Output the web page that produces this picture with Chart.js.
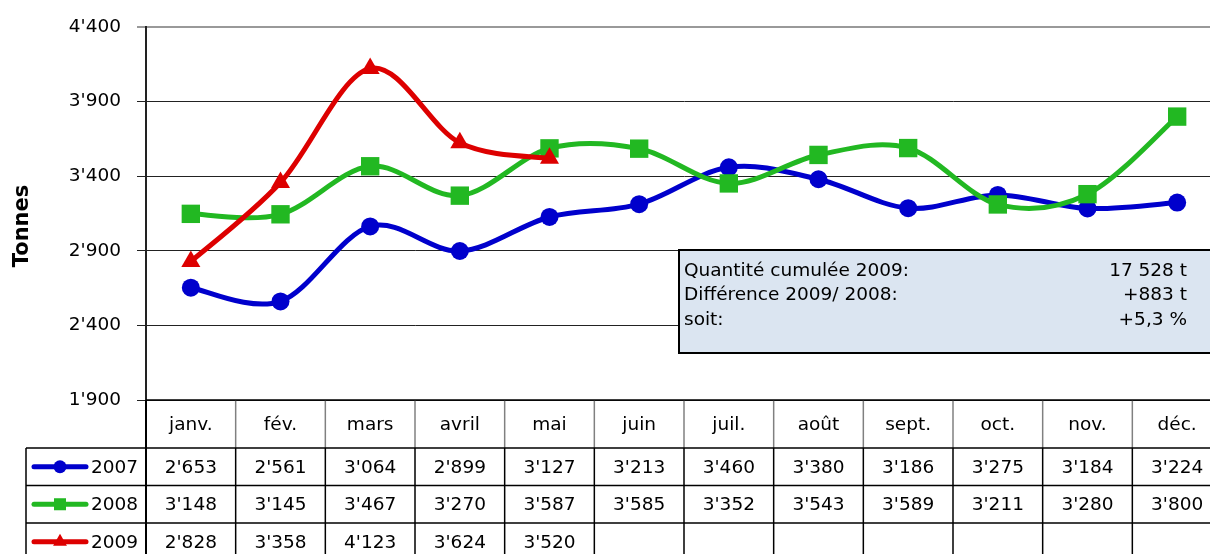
<!DOCTYPE html>
<html>
<head>
<meta charset="utf-8">
<script src="https://cdn.jsdelivr.net/npm/chart.js@4.4.0/dist/chart.umd.min.js"></script>
<style>
html, body { margin: 0; padding: 0; overflow: hidden; background: #fff; }
#wrap { position: relative; width: 1210px; height: 554px; overflow: hidden; }
</style>
</head>
<body>
<div id="wrap"><canvas id="tonnesChart" width="1222" height="554"></canvas></div>
<script>
const months = ['janv.', 'fév.', 'mars', 'avril', 'mai', 'juin', 'juil.', 'août', 'sept.', 'oct.', 'nov.', 'déc.'];
const years = ['2007', '2008', '2009'];
const values2007 = [2653, 2561, 3064, 2899, 3127, 3213, 3460, 3380, 3186, 3275, 3184, 3224];
const values2008 = [3148, 3145, 3467, 3270, 3587, 3585, 3352, 3543, 3589, 3211, 3280, 3800];
const values2009 = [2828, 3358, 4123, 3624, 3520];
const yTicks = [1900, 2400, 2900, 3400, 3900, 4400];
const summaryLabels = ['Quantité cumulée 2009:', 'Différence 2009/ 2008:', 'soit:'];
const summaryValues = ['17 528 t', '+883 t', '+5,3 %'];

const FONT = 'DejaVu Sans';
const colors = ['#0000cc', '#22b822', '#dd0000'];
const styles = ['circle', 'rect', 'triangle'];
const SMOOTH = 1 / 6; // Excel-like (Catmull-Rom) smoothing

function fmt(v) {
    return String(v).replace(/\B(?=(\d{3})+(?!\d))/g, "'");
}

// replace chart.js control points with uniform Catmull-Rom ones
const smoothPlugin = {
    id: 'excelSmooth',
    beforeDatasetsDraw(chart) {
        chart.data.datasets.forEach((ds, di) => {
            const meta = chart.getDatasetMeta(di);
            meta.dataset.updateControlPoints(chart.chartArea, 'x');
            const pts = meta.data;
            pts.forEach((p, i) => {
                const prev = pts[i - 1] || p;
                const next = pts[i + 1] || p;
                const dx = (next.x - prev.x) * SMOOTH;
                const dy = (next.y - prev.y) * SMOOTH;
                p.cp1x = p.x - dx; p.cp1y = p.y - dy;
                p.cp2x = p.x + dx; p.cp2y = p.y + dy;
            });
            meta.dataset._path = undefined;
        });
    }
};

// data table under the plot + summary box + axis title
const tablePlugin = {
    id: 'dataTable',
    afterDraw(chart) {
        const { ctx, chartArea } = chart;
        const xs = chart.scales.x;
        const colW = (chartArea.right - chartArea.left) / months.length;
        const top = chartArea.bottom;
        const rows = [top, top + 48, top + 85.5, top + 123, top + 160.5];
        const legendLeft = 26;
        const allValues = [values2007, values2008, values2009];

        ctx.save();

        // header separators (grey)
        ctx.strokeStyle = '#808080';
        ctx.lineWidth = 1.5;
        for (let i = 1; i < months.length; i++) {
            const bx = chartArea.left + i * colW;
            ctx.beginPath();
            ctx.moveTo(bx, rows[0]);
            ctx.lineTo(bx, rows[1]);
            ctx.stroke();
        }

        // body grid (black)
        ctx.strokeStyle = '#000';
        ctx.lineWidth = 1.5;
        ctx.beginPath();
        ctx.moveTo(chartArea.left, top);
        ctx.lineTo(chartArea.right, top);
        for (let r = 1; r < rows.length; r++) {
            ctx.moveTo(legendLeft, rows[r]);
            ctx.lineTo(chartArea.right, rows[r]);
        }
        ctx.moveTo(legendLeft, rows[1]);
        ctx.lineTo(legendLeft, rows[4]);
        for (let i = 1; i < months.length; i++) {
            const bx = chartArea.left + i * colW;
            ctx.moveTo(bx, rows[1]);
            ctx.lineTo(bx, rows[4]);
        }
        ctx.stroke();
        ctx.lineWidth = 2;
        ctx.beginPath();
        ctx.moveTo(chartArea.left, top);
        ctx.lineTo(chartArea.left, rows[4]);
        ctx.stroke();

        // texts
        ctx.fillStyle = '#000';
        ctx.font = '18.5px "' + FONT + '"';
        ctx.textAlign = 'center';
        ctx.textBaseline = 'middle';
        months.forEach((m, i) => {
            ctx.fillText(m, xs.getPixelForValue(i), (rows[0] + rows[1]) / 2 + 1);
        });
        allValues.forEach((vals, r) => {
            const cy = (rows[r + 1] + rows[r + 2]) / 2 + 1;
            vals.forEach((v, i) => {
                ctx.fillText(fmt(v), xs.getPixelForValue(i), cy);
            });
        });

        // legend keys
        years.forEach((y, r) => {
            const cy = (rows[r + 1] + rows[r + 2]) / 2;
            ctx.strokeStyle = colors[r];
            ctx.fillStyle = colors[r];
            ctx.lineWidth = 5;
            ctx.lineCap = 'round';
            ctx.beginPath();
            ctx.moveTo(34, cy);
            ctx.lineTo(86, cy);
            ctx.stroke();
            const rad = [6.5, 8.5, 8][r];
            Chart.helpers.drawPoint(ctx, { pointStyle: styles[r], radius: rad, rotation: 0, borderWidth: 0 }, 60, cy);
            ctx.fillStyle = '#000';
            ctx.textAlign = 'right';
            ctx.fillText(y, 138, cy + 1);
        });

        // y title
        ctx.save();
        ctx.translate(23, 226);
        ctx.rotate(-Math.PI / 2);
        ctx.font = 'bold 21px "' + FONT + '"';
        ctx.textAlign = 'center';
        ctx.textBaseline = 'middle';
        ctx.fillText('Tonnes', 0, 0);
        ctx.restore();

        // summary box
        const bx = 679, by = 250, bw = 560, bh = 103;
        ctx.fillStyle = '#dbe5f1';
        ctx.fillRect(bx, by, bw, bh);
        ctx.strokeStyle = '#000';
        ctx.lineWidth = 2;
        ctx.strokeRect(bx, by, bw, bh);
        ctx.fillStyle = '#000';
        ctx.font = '18.5px "' + FONT + '"';
        ctx.textBaseline = 'middle';
        summaryLabels.forEach((t, i) => {
            ctx.textAlign = 'left';
            ctx.fillText(t, 684, 271 + i * 24.5);
            ctx.textAlign = 'right';
            ctx.fillText(summaryValues[i], 1187, 271 + i * 24.5);
        });

        ctx.restore();
    }
};

const ctx = document.getElementById('tonnesChart').getContext('2d');

new Chart(ctx, {
    type: 'line',
    data: {
        labels: months,
        datasets: [values2007, values2008, values2009].map((vals, i) => ({
            label: years[i],
            data: vals,
            borderColor: colors[i],
            backgroundColor: colors[i],
            borderWidth: 5,
            pointStyle: styles[i],
            pointRadius: [9, 13, 11][i],
            pointBorderWidth: 0,
            tension: 0.4,
            fill: false,
            order: 2 - i
        }))
    },
    options: {
        responsive: false,
        animation: false,
        events: [],
        // canvas is a bit wider than the page so the last column gets cropped like the original
        layout: { autoPadding: false, padding: { top: 27, bottom: 154, left: 0, right: 0 } },
        plugins: {
            legend: { display: false },
            tooltip: { enabled: false }
        },
        scales: {
            x: { display: false, offset: true },
            y: {
                min: 1900,
                max: 4400,
                afterBuildTicks: (scale) => { scale.ticks = yTicks.map(v => ({ value: v })); },
                afterFit: (scale) => { scale.width = 146; },
                border: { display: true, color: '#222', width: 2 },
                grid: {
                    color: (c) => c.tick && c.tick.value === 4400 ? '#999' : '#222',
                    lineWidth: (c) => c.tick && c.tick.value === 4400 ? 2 : 1,
                    tickLength: 9
                },
                ticks: {
                    padding: 16,
                    color: '#000',
                    font: { family: FONT, size: 18.5 },
                    callback: (v) => fmt(v)
                }
            }
        }
    },
    plugins: [smoothPlugin, tablePlugin]
});
</script>
</body>
</html>
